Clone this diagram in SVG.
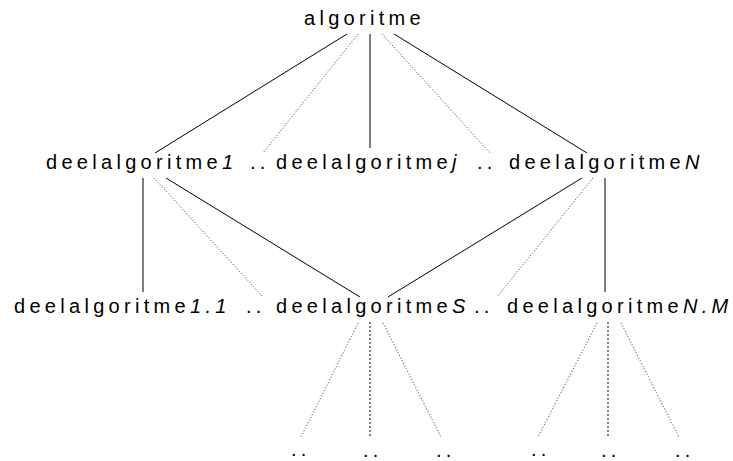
<svg xmlns="http://www.w3.org/2000/svg" width="733" height="461" viewBox="0 0 733 461">
<style>
text{font-family:"Liberation Sans",Arial,Helvetica,sans-serif;font-size:20px;letter-spacing:4.3px;fill:#000}
.it{font-style:italic}
.s{stroke:#000;stroke-width:1;fill:none}
.d{stroke:#000;stroke-width:0.8;stroke-dasharray:1 2;fill:none}
.v{stroke:#000;stroke-width:1;stroke-dasharray:2 2;fill:none}
</style>
<rect width="733" height="461" fill="#fff"/>
<g id="connectors">
<line class="s" x1="347" y1="34" x2="155" y2="153"/>
<line class="d" x1="358" y1="34" x2="263" y2="153"/>
<line class="s" x1="370" y1="34" x2="370" y2="148"/>
<line class="d" x1="382" y1="34" x2="490" y2="153"/>
<line class="s" x1="394" y1="34" x2="587" y2="153"/>
<line class="s" x1="143" y1="178" x2="143" y2="292"/>
<line class="d" x1="154" y1="178" x2="263" y2="297"/>
<line class="s" x1="166" y1="178" x2="360" y2="297"/>
<line class="s" x1="582" y1="178" x2="388" y2="297"/>
<line class="d" x1="593" y1="178" x2="497" y2="297"/>
<line class="s" x1="605" y1="178" x2="605" y2="292"/>
<line class="d" x1="358" y1="323" x2="301" y2="437"/>
<line class="v" x1="370" y1="322" x2="370" y2="437"/>
<line class="d" x1="383" y1="323" x2="441" y2="437"/>
<line class="d" x1="597" y1="323" x2="538" y2="437"/>
<line class="v" x1="608" y1="322" x2="608" y2="437"/>
<line class="d" x1="621" y1="323" x2="679" y2="437"/>
</g>
<g id="algoritme"><text x="304" y="25">algoritme</text></g>
<g id="deel1"><text x="46" y="169">deelalgoritme<tspan class="it">1</tspan></text></g>
<g id="dots2a"><text x="250" y="169">..</text></g>
<g id="deelj"><text x="276" y="169">deelalgoritme<tspan class="it">j</tspan></text></g>
<g id="dots2b"><text x="477" y="169">..</text></g>
<g id="deelN"><text x="509" y="169">deelalgoritme<tspan class="it">N</tspan></text></g>
<g id="deel11"><text x="14" y="313">deelalgoritme<tspan class="it">1.1</tspan></text></g>
<g id="dots3a"><text x="246" y="313">..</text></g>
<g id="deelS"><text x="276" y="313">deelalgoritme<tspan class="it">S</tspan></text></g>
<g id="dots3b"><text x="474" y="313">..</text></g>
<g id="deelNM"><text x="507" y="313">deelalgoritme<tspan class="it">N.M</tspan></text></g>
<g id="leaves">
<text x="291" y="455.5">..</text>
<text x="363" y="457">..</text>
<text x="436" y="457">..</text>
<text x="531" y="455.5">..</text>
<text x="601" y="457">..</text>
<text x="675" y="457">..</text>
</g>
</svg>
